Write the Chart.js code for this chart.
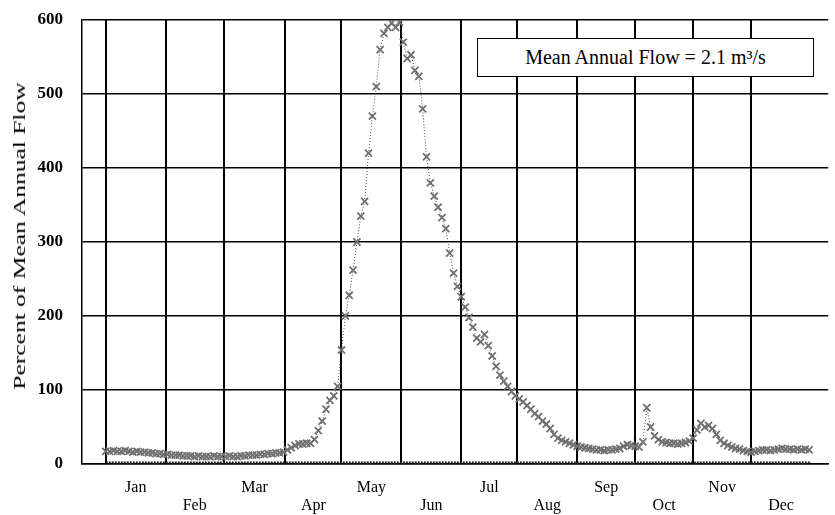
<!DOCTYPE html>
<html>
<head>
<meta charset="utf-8">
<script src="https://cdn.jsdelivr.net/npm/chart.js@4.4.0/dist/chart.umd.min.js"></script>
<style>
   body { margin: 0; background: #fff; }
   #wrap { position: relative; width: 835px; height: 515px; }
   #note {
      position: absolute; left: 477px; top: 38px; width: 335px; height: 37px;
      border: 1.5px solid #000; background: #fff;
      font-family: 'Liberation Serif', serif; font-size: 20px; color: #000;
      display: flex; align-items: center; justify-content: center;
   }
   #y-title {
      position: absolute; left: 20px; top: 236px; white-space: nowrap;
      font-family: 'Liberation Serif', serif; font-size: 17px; color: #000;
      transform: translate(-50%, -50%) rotate(-90deg) scaleX(1.5);
   }
</style>
</head>
<body>
<div id="wrap">
   <canvas id="flow-graph" width="835" height="515"></canvas>
   <div id="y-title">Percent of Mean Annual Flow</div>
   <div id="note">Mean Annual Flow = 2.1 m³/s</div>
</div>
<script>
// month names and the day where each month starts
let months = ['Jan', 'Feb', 'Mar', 'Apr', 'May', 'Jun', 'Jul', 'Aug', 'Sep', 'Oct', 'Nov', 'Dec'];
let month_start = [0, 31, 61, 93, 122, 153, 184, 213, 244, 274, 304, 334, 365];
let y_ticks = [0, 100, 200, 300, 400, 500, 600];

// percent of mean annual flow, one value every 2 days from Jan 1
let day_step = 2;
let pct_flow = [
   17, 17, 18, 17, 17, 18, 17, 16, 17, 16, 16, 15, 15, 14, 14, 13,
   13, 12, 12, 12, 11, 11, 11, 10, 11, 10, 10, 10, 11, 10, 10,
   10, 11, 10, 10, 11, 11, 12, 12, 12, 13, 13, 14, 14, 15, 15, 16,
   19, 22, 25, 27, 27, 28, 28, 33, 45, 58, 74, 86, 92, 105,
   154, 200, 228, 262, 300, 335, 355, 420, 470, 510, 560, 582, 590, 596, 590, 597,
   570, 548, 553, 532, 524, 480, 415, 380, 362, 347, 333, 318, 285, 258, 240,
   226, 212, 198, 185, 170, 165, 175, 160, 146, 132, 120, 112, 105, 98, 92,
   88, 84, 79, 74, 68, 64, 58, 54, 48, 40, 35, 32, 30, 28, 26, 24,
   23, 22, 21, 20, 19, 19, 18, 19, 19, 20, 21, 24, 26, 25, 24, 23,
   30, 76, 50, 38, 33, 30, 29, 28, 28, 27, 28, 29, 31, 35,
   46, 55, 50, 52, 48, 40, 32, 28, 25, 23, 21, 20, 18, 17, 16,
   17, 18, 19, 19, 18, 19, 20, 21, 20, 20, 19, 20, 19, 20, 19
];

// faint base line drawn along the bottom of the plot
let base_days = [0, 365];
let base_flow = [2, 2];

let flow_pts = pct_flow.map((v, i) => ({ x: i * day_step, y: v }));
let base_pts = base_days.map((d, i) => ({ x: d, y: base_flow[i] }));

// ticks: month starts carry the grid lines, mid-months carry the labels
let x_ticks = [];
month_start.slice(0, 12).forEach((d, i) => {
   x_ticks.push({ value: d, start: true });
   x_ticks.push({ value: (d + month_start[i + 1]) / 2, start: false, name: months[i], row: i % 2 });
});

let serif = "'Liberation Serif', 'Times New Roman', serif";

var ctx = document.getElementById('flow-graph');
var chart = new Chart(ctx, {
   type: 'scatter',
   data: {
      datasets: [
         {
            label: 'Flow',
            data: flow_pts,
            showLine: true,
            borderColor: '#444',
            borderWidth: 1,
            borderDash: [1, 2],
            pointStyle: 'crossRot',
            pointRadius: 5,
            pointBorderWidth: 1.8,
            pointBorderColor: '#707070',
         },
         {
            label: 'Base',
            data: base_pts,
            showLine: true,
            borderColor: '#222',
            borderWidth: 2,
            borderDash: [2, 1],
            pointRadius: 0,
         },
      ],
   },
   options: {
      responsive: false,
      animation: false,
      layout: { padding: { top: 20, right: 0, left: 0, bottom: 0 } },
      scales: {
         x: {
            type: 'linear',
            min: -12.3,
            max: 373.9,
            afterBuildTicks: (axis) => {
               axis.ticks = x_ticks.map((t) => ({ value: t.value }));
            },
            afterFit: (axis) => {
               axis.height = 51;
               axis.paddingLeft = 0;
               axis.paddingRight = 0;
            },
            ticks: {
               autoSkip: false,
               maxRotation: 0,
               padding: 15,
               color: '#000',
               font: { family: serif, size: 16, lineHeight: 1.1 },
               callback: (value, index) => {
                  let t = x_ticks[index];
                  if (!t || t.start) return '';
                  return t.row === 0 ? [t.name, ''] : ['', t.name];
               },
            },
            grid: {
               drawTicks: false,
               lineWidth: 2,
               color: (c) => {
                  let t = x_ticks[c.index];
                  return t && t.start ? '#000' : 'rgba(0,0,0,0)';
               },
            },
            border: { color: '#000', width: 1.5 },
         },
         y: {
            min: 0,
            max: 600,
            afterBuildTicks: (axis) => {
               axis.ticks = y_ticks.map((v) => ({ value: v }));
            },
            afterFit: (axis) => {
               axis.width = 82;
               axis.paddingTop = 0;
               axis.paddingBottom = 0;
            },
            ticks: {
               padding: 19,
               color: '#000',
               font: { family: serif, size: 17, weight: 'bold' },
            },
            grid: { drawTicks: false, color: '#000', lineWidth: 1.5 },
            border: { color: '#000', width: 1.5 },
         },
      },
      plugins: {
         legend: { display: false },
         tooltip: { enabled: false },
      },
   },
});
</script>
</body>
</html>
